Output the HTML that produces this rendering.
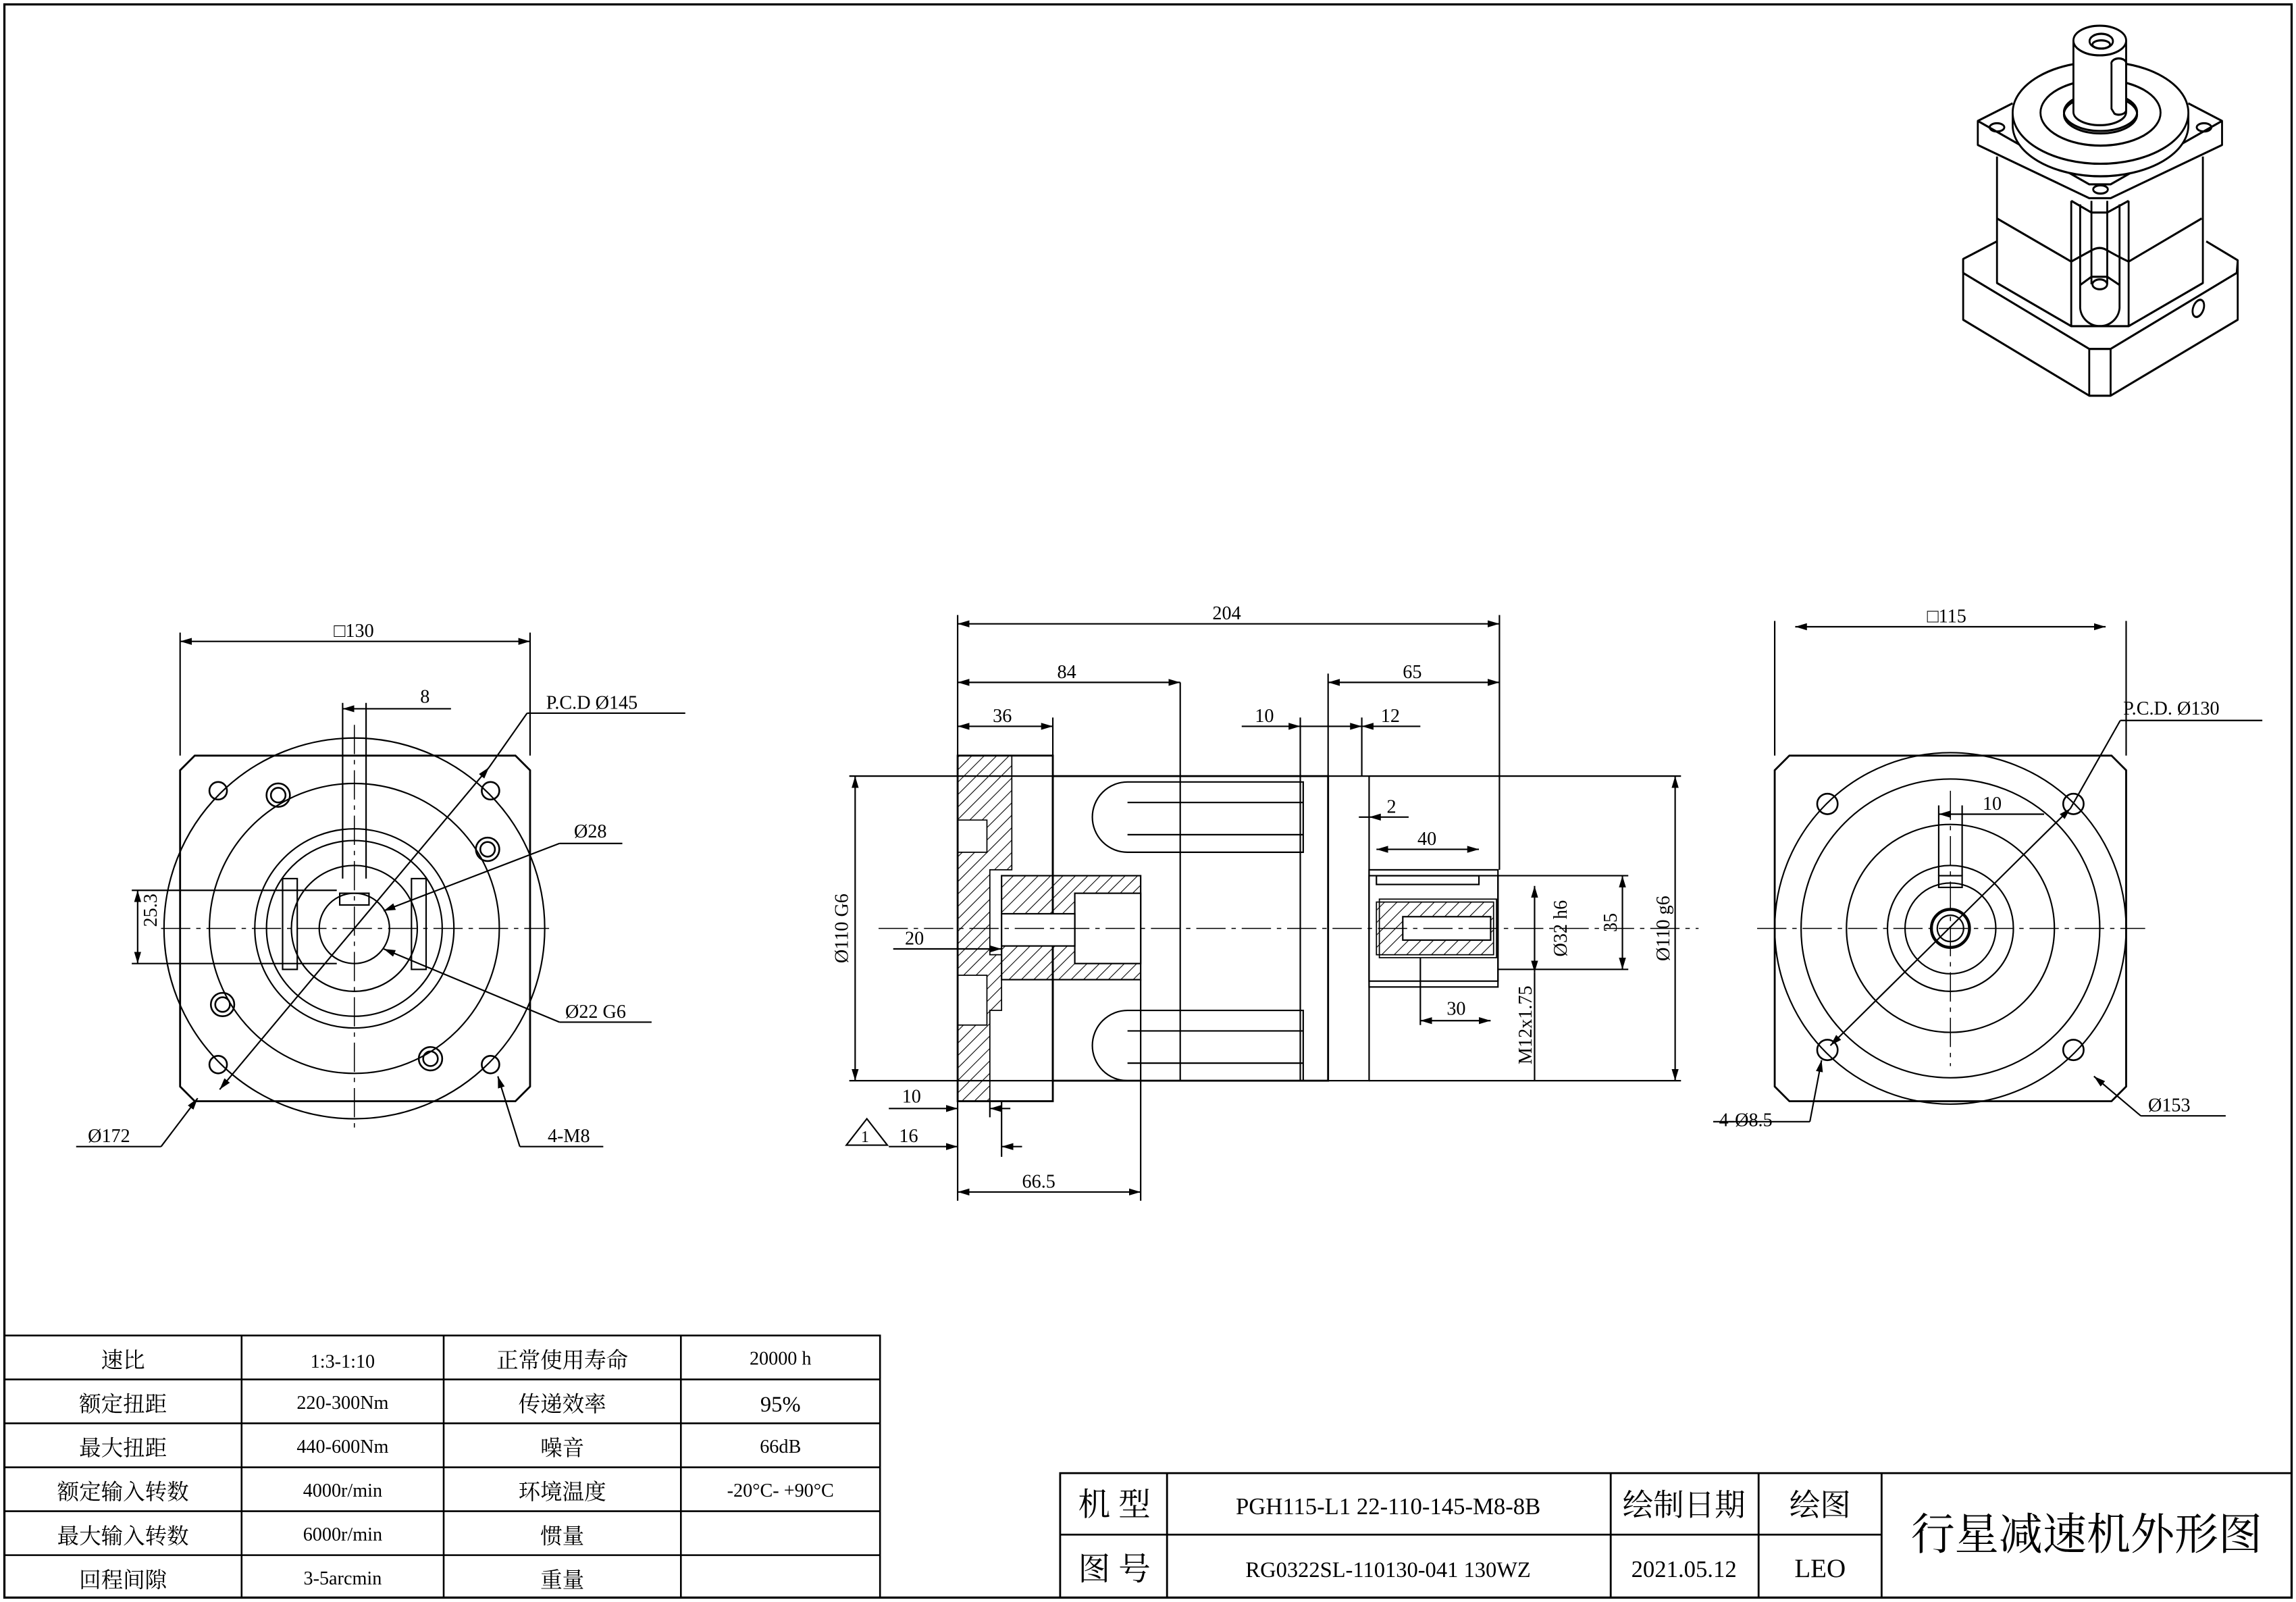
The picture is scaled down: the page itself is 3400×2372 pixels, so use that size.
<!DOCTYPE html>
<html><head><meta charset="utf-8"><style>
html,body{margin:0;padding:0;background:#fff;}
svg{display:block;}
text{font-family:"Liberation Serif","Noto Serif CJK SC","Noto Sans CJK SC",serif;fill:#000;}
.c{font-family:"Liberation Sans","Noto Sans CJK SC",sans-serif;}
</style></head><body>
<svg width="3400" height="2372" viewBox="0 0 1568 1094" preserveAspectRatio="none" xmlns="http://www.w3.org/2000/svg">
<defs>
<marker id="a" viewBox="0 0 10 10" refX="10" refY="5" markerWidth="8" markerHeight="8" orient="auto-start-reverse" markerUnits="userSpaceOnUse"><path d="M0,2 L10,5 L0,8z" fill="#000"/></marker>
<pattern id="h" width="6" height="6" patternUnits="userSpaceOnUse" patternTransform="rotate(45)"><line x1="0" y1="0" x2="0" y2="6" stroke="#000" stroke-width="1"/></pattern>
</defs>
<g fill="none" stroke="#000" stroke-width="1">
<rect x="3" y="3" width="1562" height="1088" stroke-width="1.5"/>

<!-- LEFT VIEW -->
<path d="M133,516 L352,516 L362,526 L362,742 L352,752 L133,752 L123,742 L123,526Z" stroke-width="1.3"/>
<circle cx="242" cy="634" r="130"/>
<circle cx="242" cy="634" r="99"/>
<circle cx="242" cy="634" r="68"/>
<circle cx="242" cy="634" r="60"/>
<circle cx="242" cy="634" r="43"/>
<circle cx="242" cy="634" r="24"/>
<rect x="193" y="600" width="10" height="62"/><rect x="281" y="600" width="10" height="62"/>
<rect x="232" y="610" width="20" height="8"/>
<g stroke-width="1.2">
<circle cx="149" cy="540" r="6"/><circle cx="335" cy="540" r="6"/><circle cx="149" cy="727" r="6"/><circle cx="335" cy="727" r="6"/>
<circle cx="190" cy="543" r="8"/><circle cx="190" cy="543" r="5"/>
<circle cx="333" cy="580" r="8"/><circle cx="333" cy="580" r="5"/>
<circle cx="152" cy="686" r="8"/><circle cx="152" cy="686" r="5"/>
<circle cx="294" cy="723" r="8"/><circle cx="294" cy="723" r="5"/>
</g>
<line x1="110" y1="634" x2="375" y2="634" stroke-dasharray="20,4,3,4" stroke-width="0.7"/>
<line x1="242" y1="495" x2="242" y2="770" stroke-dasharray="20,4,3,4" stroke-width="0.7"/>
<line x1="234" y1="480" x2="234" y2="600"/><line x1="250" y1="480" x2="250" y2="600"/>
<line x1="234" y1="484" x2="308" y2="484" marker-start="url(#a)"/>
<line x1="123" y1="516" x2="123" y2="432"/><line x1="362" y1="516" x2="362" y2="432"/>
<line x1="123" y1="438" x2="362" y2="438" marker-start="url(#a)" marker-end="url(#a)"/>
<line x1="90" y1="608" x2="230" y2="608"/><line x1="90" y1="658" x2="230" y2="658"/>
<line x1="94" y1="608" x2="94" y2="658" marker-start="url(#a)" marker-end="url(#a)"/>
<line x1="150" y1="744" x2="334" y2="524" marker-start="url(#a)" marker-end="url(#a)"/>
<line x1="334" y1="524" x2="360" y2="487"/><line x1="360" y1="487" x2="468" y2="487"/>
<line x1="262" y1="622" x2="382" y2="576" marker-start="url(#a)"/><line x1="382" y1="576" x2="425" y2="576"/>
<line x1="262" y1="648" x2="382" y2="698" marker-start="url(#a)"/><line x1="382" y1="698" x2="445" y2="698"/>
<line x1="135" y1="750" x2="110" y2="783" marker-start="url(#a)"/><line x1="110" y1="783" x2="52" y2="783"/>
<line x1="340" y1="735" x2="355" y2="783" marker-start="url(#a)"/><line x1="355" y1="783" x2="412" y2="783"/>

<!-- MIDDLE VIEW -->
<rect x="654" y="516" width="65" height="236" stroke-width="1.3"/>
<rect x="719" y="530" width="188" height="208" stroke-width="1.3"/>
<rect x="907" y="530" width="28" height="208"/>
<rect x="935" y="594" width="88" height="80"/>
<rect x="935" y="598" width="88" height="72"/>
<rect x="942" y="614" width="80" height="40" stroke-width="0.8"/>
<rect x="940" y="598" width="70" height="6"/>
<path d="M654,516 L691,516 L691,594 L676,594 L676,652 L684,652 L684,690 L676,690 L676,752 L654,752 L654,700 L674,700 L674,666 L654,666 L654,582 L674,582 L674,560 L654,560Z" fill="url(#h)" stroke-width="0.8"/>
<rect x="684" y="598" width="95" height="71" fill="url(#h)"/>
<rect x="734" y="610" width="45" height="48" fill="#fff"/>
<rect x="684" y="624" width="50" height="22" fill="#fff"/>
<rect x="940" y="616" width="80" height="36" fill="url(#h)" stroke-width="0.8"/>
<rect x="958" y="626" width="60" height="16" fill="#fff"/>
<path d="M770,534 L890,534 L890,582 L770,582 A24,24 0 0 1 770,534Z"/>
<path d="M770,548 L890,548 M770,570 L890,570"/>
<path d="M770,690 L890,690 L890,738 L770,738 A24,24 0 0 1 770,690Z"/>
<path d="M770,704 L890,704 M770,726 L890,726"/>
<line x1="806" y1="466" x2="806" y2="738"/>
<line x1="888" y1="530" x2="888" y2="738"/>
<line x1="600" y1="634" x2="1160" y2="634" stroke-dasharray="20,4,3,4" stroke-width="0.7"/>
<!-- dims -->
<line x1="654" y1="516" x2="654" y2="420"/><line x1="1024" y1="594" x2="1024" y2="420"/>
<line x1="654" y1="426" x2="1024" y2="426" marker-start="url(#a)" marker-end="url(#a)"/>
<line x1="654" y1="466" x2="806" y2="466" marker-start="url(#a)" marker-end="url(#a)"/>
<line x1="654" y1="496" x2="719" y2="496" marker-start="url(#a)" marker-end="url(#a)"/>
<line x1="719" y1="516" x2="719" y2="490"/>
<line x1="907" y1="466" x2="1024" y2="466" marker-start="url(#a)" marker-end="url(#a)"/>
<line x1="907" y1="530" x2="907" y2="460"/>
<line x1="888" y1="530" x2="888" y2="490"/><line x1="930" y1="530" x2="930" y2="490"/>
<line x1="848" y1="496" x2="888" y2="496" marker-end="url(#a)"/><line x1="907" y1="496" x2="888" y2="496"/>
<line x1="970" y1="496" x2="930" y2="496" marker-end="url(#a)"/><line x1="907" y1="496" x2="930" y2="496" marker-end="url(#a)"/>
<line x1="962" y1="558" x2="935" y2="558" marker-end="url(#a)"/><line x1="935" y1="558" x2="928" y2="558"/>
<line x1="940" y1="580" x2="1010" y2="580" marker-start="url(#a)" marker-end="url(#a)"/>
<line x1="580" y1="530" x2="719" y2="530"/><line x1="580" y1="738" x2="719" y2="738"/>
<line x1="584" y1="530" x2="584" y2="738" marker-start="url(#a)" marker-end="url(#a)"/>
<line x1="935" y1="530" x2="1148" y2="530"/><line x1="935" y1="738" x2="1148" y2="738"/>
<line x1="1144" y1="530" x2="1144" y2="738" marker-start="url(#a)" marker-end="url(#a)"/>
<line x1="1023" y1="598" x2="1112" y2="598"/><line x1="1023" y1="662" x2="1112" y2="662"/>
<line x1="1108" y1="598" x2="1108" y2="662" marker-start="url(#a)" marker-end="url(#a)"/>
<line x1="1048" y1="605" x2="1048" y2="664" marker-start="url(#a)" marker-end="url(#a)"/>
<line x1="1048" y1="664" x2="1048" y2="738"/>
<line x1="970" y1="654" x2="970" y2="700"/><line x1="970" y1="697" x2="1018" y2="697" marker-start="url(#a)" marker-end="url(#a)"/>
<line x1="610" y1="648" x2="684" y2="648" marker-end="url(#a)"/>
<line x1="607" y1="757" x2="654" y2="757" marker-end="url(#a)"/><line x1="676" y1="757" x2="690" y2="757" marker-start="url(#a)"/>
<line x1="607" y1="783" x2="654" y2="783" marker-end="url(#a)"/><line x1="684" y1="783" x2="698" y2="783" marker-start="url(#a)"/>
<path d="M578,782 L592,764 L606,782Z"/>
<line x1="654" y1="752" x2="654" y2="820"/><line x1="684" y1="752" x2="684" y2="790"/><line x1="676" y1="752" x2="676" y2="763"/>
<line x1="779" y1="669" x2="779" y2="820"/>
<line x1="654" y1="814" x2="779" y2="814" marker-start="url(#a)" marker-end="url(#a)"/>

<!-- RIGHT VIEW -->
<path d="M1222,516 L1442,516 L1452,526 L1452,742 L1442,752 L1222,752 L1212,742 L1212,526Z" stroke-width="1.3"/>
<circle cx="1332" cy="634" r="120"/>
<circle cx="1332" cy="634" r="102"/>
<circle cx="1332" cy="634" r="71"/>
<circle cx="1332" cy="634" r="43"/>
<circle cx="1332" cy="634" r="31"/>
<circle cx="1332" cy="634" r="13" stroke-width="2"/>
<circle cx="1332" cy="634" r="9"/>
<rect x="1324" y="598" width="16" height="8"/>
<g stroke-width="1.2">
<circle cx="1248" cy="549" r="7"/><circle cx="1416" cy="549" r="7"/><circle cx="1248" cy="717" r="7"/><circle cx="1416" cy="717" r="7"/>
</g>
<line x1="1200" y1="634" x2="1465" y2="634" stroke-dasharray="20,4,3,4" stroke-width="0.7"/>
<line x1="1332" y1="540" x2="1332" y2="728" stroke-dasharray="20,4,3,4" stroke-width="0.7"/>
<line x1="1212" y1="516" x2="1212" y2="424"/><line x1="1452" y1="516" x2="1452" y2="424"/>
<line x1="1226" y1="428" x2="1438" y2="428" marker-start="url(#a)" marker-end="url(#a)"/>
<line x1="1324" y1="550" x2="1324" y2="598"/><line x1="1340" y1="550" x2="1340" y2="598"/>
<line x1="1324" y1="556" x2="1396" y2="556" marker-start="url(#a)"/>
<line x1="1250" y1="714" x2="1414" y2="552" marker-start="url(#a)" marker-end="url(#a)"/>
<line x1="1414" y1="552" x2="1448" y2="492"/><line x1="1448" y1="492" x2="1545" y2="492"/>
<line x1="1244" y1="724" x2="1236" y2="766" marker-start="url(#a)"/><line x1="1236" y1="766" x2="1170" y2="766"/>
<line x1="1430" y1="735" x2="1462" y2="762" marker-start="url(#a)"/><line x1="1462" y1="762" x2="1520" y2="762"/>

<!-- 3D ISO -->
<g stroke-width="1.3" stroke-linejoin="round" transform="matrix(1,0,0,1.125,0,-9)">
<path d="M1363.8,154.5 L1340.7,165.2 L1340.7,202.1 L1426.8,248.2 L1441.4,248.2 L1528.2,202.1 L1528.2,166 L1506.7,154.5" fill="#fff"/>
<path d="M1340.7,173.7 L1426.8,219.8 L1441.4,219.8 L1527.5,173.7"/>
<path d="M1426.8,219.8 L1426.8,248.2 M1441.4,219.8 L1441.4,248.2"/>
<path d="M1340.7,165.2 L1340.7,173.7 M1528.2,166 L1527.5,173.7"/>
<path d="M1363.8,103 L1363.8,179.8 L1414.5,206 L1453.7,206 L1504.4,179.8 L1504.4,103" fill="#fff"/>
<path d="M1363.8,140.6 L1414.5,166.8 M1453.7,166.8 L1503.6,140.6"/>
<path d="M1414.5,129.9 L1414.5,206 M1453.7,129.9 L1453.7,206"/>
<path d="M1420.6,132 L1420.6,195 A13.5,12 0 0 0 1447.5,195 L1447.5,132"/>
<path d="M1428.3,129.9 L1428.3,180.6 M1439.1,129.9 L1439.1,180.6"/>
<path d="M1414.5,166.8 Q1420,164 1428.3,160 Q1434,157 1439.1,160 Q1447,164 1453.7,166.8"/>
<path d="M1414.5,129.9 L1428.3,137 L1439.1,137 L1453.7,129.9"/>
<path d="M1420.6,181 L1428.3,176 L1439.1,176 L1447.5,181"/>
<ellipse cx="1434" cy="180.6" rx="5" ry="3"/>
<ellipse cx="1501.3" cy="195.2" rx="3.5" ry="5.5" transform="rotate(25 1501.3 195.2)"/>
<path d="M1374.5,70.7 L1350.7,81.4 L1350.7,96 L1426.8,128.3 L1441.4,128.3 L1517.5,96 L1517.5,81.4 L1494.4,70.7" fill="#fff"/>
<path d="M1350.7,81.4 L1426.8,119.9 L1441.4,119.9 L1517.5,81.4"/>
<ellipse cx="1363.8" cy="85.3" rx="5" ry="2.5"/>
<ellipse cx="1505.2" cy="85.3" rx="5" ry="2.5"/>
<ellipse cx="1434.5" cy="123" rx="5" ry="2.5"/>
<path d="M1374.5,76.4 L1374.5,84 A60,31 0 0 0 1494.5,84 L1494.5,76.4" fill="#fff"/>
<ellipse cx="1434.5" cy="76.4" rx="60" ry="31" fill="#fff"/>
<ellipse cx="1434.5" cy="76.4" rx="41" ry="20"/>
<ellipse cx="1434.5" cy="76" rx="25" ry="11.5"/>
<ellipse cx="1434.5" cy="77.5" rx="25" ry="11.5"/>
<path d="M1416,32.6 L1416,76 A18,8 0 0 0 1452,76 L1452,32.6" fill="#fff"/>
<ellipse cx="1434" cy="32.6" rx="18" ry="9" fill="#fff"/>
<ellipse cx="1435" cy="33" rx="8" ry="4.5"/>
<ellipse cx="1435" cy="35" rx="6" ry="2.5"/>
<path d="M1442,47 A5,3 0 0 1 1452,46 L1452,75 A5,3 0 0 1 1444,77 L1442,74Z"/>
</g>

<!-- TABLE LEFT -->
<g stroke-width="1.2">
<rect x="3" y="912" width="598" height="179"/>
<line x1="3" y1="942" x2="601" y2="942"/><line x1="3" y1="972" x2="601" y2="972"/><line x1="3" y1="1002" x2="601" y2="1002"/><line x1="3" y1="1032" x2="601" y2="1032"/><line x1="3" y1="1062" x2="601" y2="1062"/>
<line x1="165" y1="912" x2="165" y2="1091"/><line x1="303" y1="912" x2="303" y2="1091"/><line x1="465" y1="912" x2="465" y2="1091"/>
</g>
<g stroke-width="1.3">
<rect x="724" y="1006" width="841" height="85"/>
<line x1="724" y1="1048" x2="1285" y2="1048"/>
<line x1="797" y1="1006" x2="797" y2="1091"/><line x1="1100" y1="1006" x2="1100" y2="1091"/><line x1="1201" y1="1006" x2="1201" y2="1091"/><line x1="1285" y1="1006" x2="1285" y2="1091"/>
</g>
</g>

<g font-size="13">
<text x="228" y="435">□130</text>
<text x="287" y="480">8</text>
<text x="373" y="484">P.C.D Ø145</text>
<text x="392" y="572">Ø28</text>
<text x="386" y="695">Ø22 G6</text>
<text x="60" y="780">Ø172</text>
<text x="374" y="780">4-M8</text>
<text x="90" y="650" transform="rotate(-90 90 633)">25.3</text>
<text x="828" y="423">204</text>
<text x="722" y="463">84</text>
<text x="678" y="493">36</text>
<text x="958" y="463">65</text>
<text x="857" y="493">10</text>
<text x="943" y="493">12</text>
<text x="947" y="555">2</text>
<text x="968" y="577">40</text>
<text x="618" y="645">20</text>
<text x="988" y="693">30</text>
<text x="616" y="753">10</text>
<text x="614" y="780">16</text>
<text x="588" y="780" font-size="11">1</text>
<text x="698" y="811">66.5</text>
<text x="579" y="634" transform="rotate(-90 579 634)" text-anchor="middle">Ø110 G6</text>
<text x="1140" y="634" transform="rotate(-90 1140 634)" text-anchor="middle">Ø110 g6</text>
<text x="1104" y="630" transform="rotate(-90 1104 630)" text-anchor="middle">35</text>
<text x="1070" y="634" transform="rotate(-90 1070 634)" text-anchor="middle">Ø32 h6</text>
<text x="1046" y="700" transform="rotate(-90 1046 700)" text-anchor="middle">M12x1.75</text>
<text x="1316" y="425">□115</text>
<text x="1354" y="553">10</text>
<text x="1450" y="488">P.C.D. Ø130</text>
<text x="1174" y="769">4-Ø8.5</text>
<text x="1467" y="759">Ø153</text>
</g>
<g font-size="15" text-anchor="middle" class="c">
<text x="84" y="934">速比</text><text x="234" y="934" font-size="13">1:3-1:10</text><text x="384" y="934">正常使用寿命</text><text x="533" y="932" font-size="13">20000 h</text>
<text x="84" y="964">额定扭距</text><text x="234" y="962" font-size="13">220-300Nm</text><text x="384" y="964">传递效率</text><text x="533" y="964">95%</text>
<text x="84" y="994">最大扭距</text><text x="234" y="992" font-size="13">440-600Nm</text><text x="384" y="994">噪音</text><text x="533" y="992" font-size="13">66dB</text>
<text x="84" y="1024">额定输入转数</text><text x="234" y="1022" font-size="13">4000r/min</text><text x="384" y="1024">环境温度</text><text x="533" y="1022" font-size="13">-20°C- +90°C</text>
<text x="84" y="1054">最大输入转数</text><text x="234" y="1052" font-size="13">6000r/min</text><text x="384" y="1054">惯量</text>
<text x="84" y="1084">回程间隙</text><text x="234" y="1082" font-size="13">3-5arcmin</text><text x="384" y="1084">重量</text>
<text x="761" y="1035" font-size="22">机 型</text>
<text x="761" y="1079" font-size="22">图 号</text>
<text x="948" y="1034" font-size="16">PGH115-L1 22-110-145-M8-8B</text>
<text x="948" y="1077" font-size="15">RG0322SL-110130-041 130WZ</text>
<text x="1150" y="1035" font-size="21">绘制日期</text>
<text x="1150" y="1077" font-size="16">2021.05.12</text>
<text x="1243" y="1035" font-size="21">绘图</text>
<text x="1243" y="1077" font-size="18">LEO</text>
<text x="1425" y="1058" font-size="30">行星减速机外形图</text>
</g>
</svg>
</body></html>
